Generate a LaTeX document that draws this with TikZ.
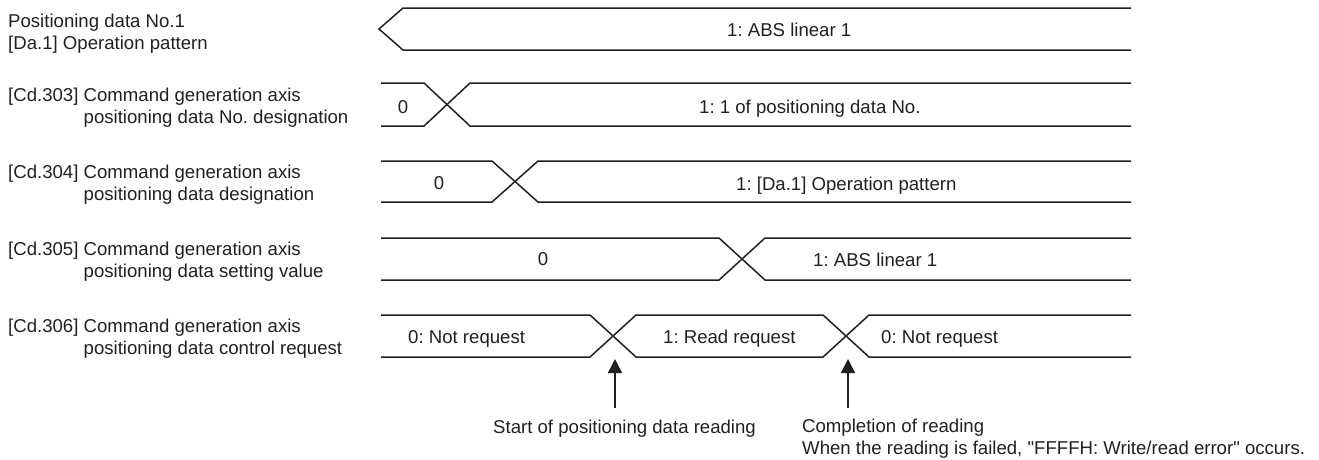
\documentclass[tikz,border=0pt]{standalone}
\usepackage{fontspec}
\setmainfont{Liberation Sans}[Ligatures=TeXOff]
\usetikzlibrary{arrows.meta,positioning,calc}
\definecolor{ink}{RGB}{35,31,32}
\frenchspacing

\begin{document}
\begin{tikzpicture}[x=1pt,y=-1pt,>={Triangle[length=14pt,width=14pt]},
   every node/.style={font=\fontsize{18.6}{22}\selectfont,text=ink,inner sep=0pt},
   sig/.style={draw=ink,line width=1.5pt},
   lbl/.style={anchor=base west,align=left},
   val/.style={anchor=base west}]
  \useasboundingbox (0,0) rectangle (1319,459);
  \node[lbl] (pd)   at (8,49)  {Positioning data No.1\\{}[Da.1] Operation pattern};
  \node[lbl] (cd303) at (8,123) {[Cd.303] Command generation axis\\\hphantom{[Cd.303]}\ positioning data No. designation};
  \node[lbl] (cd304) at (8,200) {[Cd.304] Command generation axis\\\hphantom{[Cd.304]}\ positioning data designation};
  \node[lbl] (cd305) at (8,277) {[Cd.305] Command generation axis\\\hphantom{[Cd.305]}\ positioning data setting value};
  \node[lbl] (cd306) at (8,354) {[Cd.306] Command generation axis\\\hphantom{[Cd.306]}\ positioning data control request};
  \draw[sig] (1131,8) -- (403,8) -- (379,29) -- (403,50) -- (1131,50);
  \draw[sig] (381,83) -- (424,83) -- (470,126) -- (1131,126);
  \draw[sig] (381,126) -- (424,126) -- (470,83) -- (1131,83);
  \draw[sig] (381,161) -- (492,161) -- (538,202) -- (1131,202);
  \draw[sig] (381,202) -- (492,202) -- (538,161) -- (1131,161);
  \draw[sig] (381,238) -- (719,238) -- (765,280) -- (1131,280);
  \draw[sig] (381,280) -- (719,280) -- (765,238) -- (1131,238);
  \draw[sig] (381,315) -- (590,315) -- (636,357) -- (823,357) -- (869,315) -- (1131,315);
  \draw[sig] (381,357) -- (590,357) -- (636,315) -- (823,315) -- (869,357) -- (1131,357);
  \node[val] (op)    at (727,36)  {1: ABS linear 1};
  \node      (no0)   at (403,107) {0};
  \node[val] (no1)   at (699,113) {1: 1 of positioning data No.};
  \node      (dsg0)  at (439,183) {0};
  \node[val] (dsg1)  at (736,190) {1: [Da.1] Operation pattern};
  \node      (set0)  at (543,259) {0};
  \node[val] (set1)  at (813,266) {1: ABS linear 1};
  \node[val] (req0)  at (408,343) {0: Not request};
  \node[val] (req1)  at (663,343) {1: Read request};
  \node[val] (req2)  at (881,343) {0: Not request};
  \coordinate (rdS) at (615,408);
  \coordinate (rdT) at (615,359);
  \coordinate (rdE) at (848,408);
  \coordinate (rdF) at (848,359);
  \draw[sig,->] (rdS) -- (rdT);
  \draw[sig,->] (rdE) -- (rdF);
  \node[lbl] (start) at (493,433) {Start of positioning data reading};
  \node[lbl] (done)  at (802,454) {Completion of reading\\When the reading is failed, "FFFFH: Write/read error" occurs.};
\end{tikzpicture}
\end{document}
